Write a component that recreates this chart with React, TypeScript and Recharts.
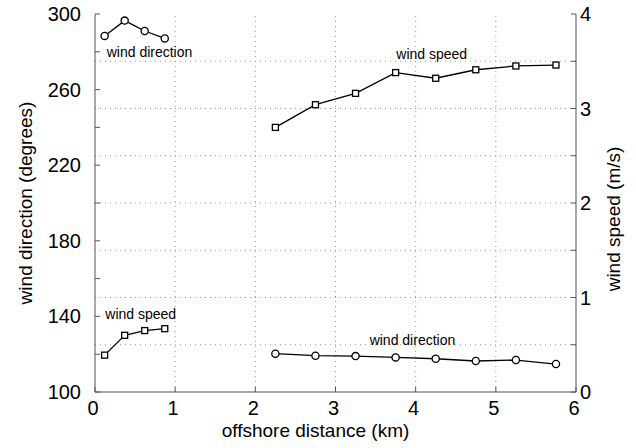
import React from 'react';
import {
  ComposedChart,
  Line,
  XAxis,
  YAxis,
  ReferenceLine,
  ReferenceDot,
  Label,
} from 'recharts';

// Offshore distance (km) of each station
const nearDistance = [0.12, 0.37, 0.62, 0.87];
const farDistance = [2.25, 2.75, 3.25, 3.75, 4.25, 4.75, 5.25, 5.75];

// Wind direction (degrees) and wind speed (m/s)
const nearDirection = [288.4, 296.5, 291.0, 287.1];
const nearSpeed = [0.39, 0.6, 0.65, 0.67];
const farDirection = [120.3, 119.2, 119.0, 118.3, 117.6, 116.4, 116.9, 114.8];
const farSpeed = [2.8, 3.04, 3.16, 3.38, 3.32, 3.41, 3.45, 3.46];

// Axis ticks
const distanceTicks = [0, 1, 2, 3, 4, 5, 6];
const directionTicks = [100, 120, 140, 160, 180, 200, 220, 240, 260, 280, 300];
const directionLabels = [100, 140, 180, 220, 260, 300];
const speedTicks = [0, 0.5, 1, 1.5, 2, 2.5, 3, 3.5, 4];
const speedLabels = [0, 1, 2, 3, 4];

const toPoints = (xs: number[], ys: number[]) => xs.map((x, i) => ({ x, v: ys[i] }));

const nearDirData = toPoints(nearDistance, nearDirection);
const nearSpeedData = toPoints(nearDistance, nearSpeed);
const farDirData = toPoints(farDistance, farDirection);
const farSpeedData = toPoints(farDistance, farSpeed);

const FONT = '"Liberation Sans", Arial, Helvetica, sans-serif';
const AXIS = '#555';
const GRID = '#999';
const TICK_LEN = 5;
const TICK_FONT = 20;

const CircleDot = (props: any) => {
  const { cx, cy } = props;
  if (cx == null || cy == null) return null;
  return <circle cx={cx} cy={cy} r={3.6} fill="#fff" stroke="#000" strokeWidth={1.3} />;
};

const SquareDot = (props: any) => {
  const { cx, cy } = props;
  if (cx == null || cy == null) return null;
  const s = 6;
  return (
    <rect x={cx - s / 2} y={cy - s / 2} width={s} height={s} fill="#fff" stroke="#000" strokeWidth={1.3} />
  );
};

const BottomTick = (props: any) => {
  const { x, y, payload } = props;
  return (
    <g>
      <line x1={x} y1={y} x2={x} y2={y - TICK_LEN} stroke={AXIS} />
      <text x={x - 2} y={y + 23} textAnchor="middle" fontSize={TICK_FONT} fontFamily={FONT} fill="#000">
        {payload.value}
      </text>
    </g>
  );
};

const TopTick = (props: any) => {
  const { x, y } = props;
  return <line x1={x} y1={y} x2={x} y2={y + TICK_LEN} stroke={AXIS} />;
};

const LeftTick = (props: any) => {
  const { x, y, payload } = props;
  const show = directionLabels.includes(payload.value);
  return (
    <g>
      <line x1={x} y1={y} x2={x + TICK_LEN} y2={y} stroke={AXIS} />
      {show && (
        <text x={x - 14} y={y + 7} textAnchor="end" fontSize={TICK_FONT} fontFamily={FONT} fill="#000">
          {payload.value}
        </text>
      )}
    </g>
  );
};

const RightTick = (props: any) => {
  const { x, y, payload } = props;
  const show = speedLabels.includes(payload.value);
  return (
    <g>
      <line x1={x} y1={y} x2={x - TICK_LEN} y2={y} stroke={AXIS} />
      {show && (
        <text x={x + 4} y={y + 7} textAnchor="start" fontSize={TICK_FONT} fontFamily={FONT} fill="#000">
          {payload.value}
        </text>
      )}
    </g>
  );
};

const axisTitle = (text: string, dx: number, dy: number, angle: number) => (props: any) => {
  const vb = props.viewBox;
  const cx = vb.x + vb.width / 2 + dx;
  const cy = vb.y + vb.height / 2 + dy;
  return (
    <text
      x={cx}
      y={cy}
      textAnchor="middle"
      dominantBaseline="central"
      fontSize={19}
      fontFamily={FONT}
      fill="#000"
      transform={angle ? `rotate(${angle}, ${cx}, ${cy})` : undefined}
    >
      {text}
    </text>
  );
};

const noteStyle = { fontSize: 14, fontFamily: FONT, fill: '#000' };

export default function App() {
  return (
    <div style={{ position: 'absolute', left: 0, top: 0, background: '#fff' }}>
      <ComposedChart width={636} height={448} margin={{ top: 14, right: 0, bottom: 0, left: 0 }}>
        <XAxis
          xAxisId="bottom"
          type="number"
          dataKey="x"
          domain={[0, 6]}
          ticks={distanceTicks}
          allowDataOverflow
          height={56}
          tickLine={false}
          tickSize={0}
          tickMargin={0}
          axisLine={{ stroke: AXIS }}
          tick={<BottomTick />}
        >
          <Label content={axisTitle('offshore distance (km)', -20, 10, 0)} />
        </XAxis>
        <XAxis
          xAxisId="top"
          orientation="top"
          type="number"
          dataKey="x"
          domain={[0, 6]}
          ticks={distanceTicks}
          allowDataOverflow
          height={0}
          tickLine={false}
          tickSize={0}
          tickMargin={0}
          axisLine={{ stroke: AXIS }}
          tick={<TopTick />}
        />
        <YAxis
          yAxisId="left"
          type="number"
          domain={[100, 300]}
          ticks={directionTicks}
          allowDataOverflow
          width={95}
          tickLine={false}
          tickSize={0}
          tickMargin={0}
          axisLine={{ stroke: AXIS }}
          tick={<LeftTick />}
        >
          <Label content={axisTitle('wind direction (degrees)', -22, 0, -90)} />
        </YAxis>
        <YAxis
          yAxisId="right"
          orientation="right"
          type="number"
          domain={[0, 4]}
          ticks={speedTicks}
          allowDataOverflow
          width={60}
          tickLine={false}
          tickSize={0}
          tickMargin={0}
          axisLine={{ stroke: AXIS }}
          tick={<RightTick />}
        >
          <Label content={axisTitle('wind speed (m/s)', 7, 16, -90)} />
        </YAxis>

        {/* dotted grid: verticals at whole kilometres, horizontals at wind speed ticks */}
        {distanceTicks.slice(1, -1).map((d) => (
          <ReferenceLine
            key={`gx-${d}`}
            x={d}
            xAxisId="bottom"
            yAxisId="right"
            stroke={GRID}
            strokeDasharray="1 4"
          />
        ))}
        {speedTicks.slice(1, -1).map((s) => (
          <ReferenceLine
            key={`gy-${s}`}
            y={s}
            xAxisId="bottom"
            yAxisId="right"
            stroke={GRID}
            strokeDasharray="1 4"
          />
        ))}

        <Line
          data={nearDirData}
          dataKey="v"
          xAxisId="bottom"
          yAxisId="left"
          stroke="#000"
          strokeWidth={1.3}
          dot={<CircleDot />}
          activeDot={false}
          isAnimationActive={false}
        />
        <Line
          data={farDirData}
          dataKey="v"
          xAxisId="bottom"
          yAxisId="left"
          stroke="#000"
          strokeWidth={1.3}
          dot={<CircleDot />}
          activeDot={false}
          isAnimationActive={false}
        />
        <Line
          data={nearSpeedData}
          dataKey="v"
          xAxisId="bottom"
          yAxisId="right"
          stroke="#000"
          strokeWidth={1.3}
          dot={<SquareDot />}
          activeDot={false}
          isAnimationActive={false}
        />
        <Line
          data={farSpeedData}
          dataKey="v"
          xAxisId="bottom"
          yAxisId="right"
          stroke="#000"
          strokeWidth={1.3}
          dot={<SquareDot />}
          activeDot={false}
          isAnimationActive={false}
        />

        <ReferenceDot x={0.68} y={280} xAxisId="bottom" yAxisId="left" r={0} stroke="none"
          label={{ value: 'wind direction', position: 'center', ...noteStyle }} />
        <ReferenceDot x={3.96} y={127.5} xAxisId="bottom" yAxisId="left" r={0} stroke="none"
          label={{ value: 'wind direction', position: 'center', ...noteStyle }} />
        <ReferenceDot x={4.2} y={3.58} xAxisId="bottom" yAxisId="right" r={0} stroke="none"
          label={{ value: 'wind speed', position: 'center', ...noteStyle }} />
        <ReferenceDot x={0.57} y={0.83} xAxisId="bottom" yAxisId="right" r={0} stroke="none"
          label={{ value: 'wind speed', position: 'center', ...noteStyle }} />
      </ComposedChart>
    </div>
  );
}
